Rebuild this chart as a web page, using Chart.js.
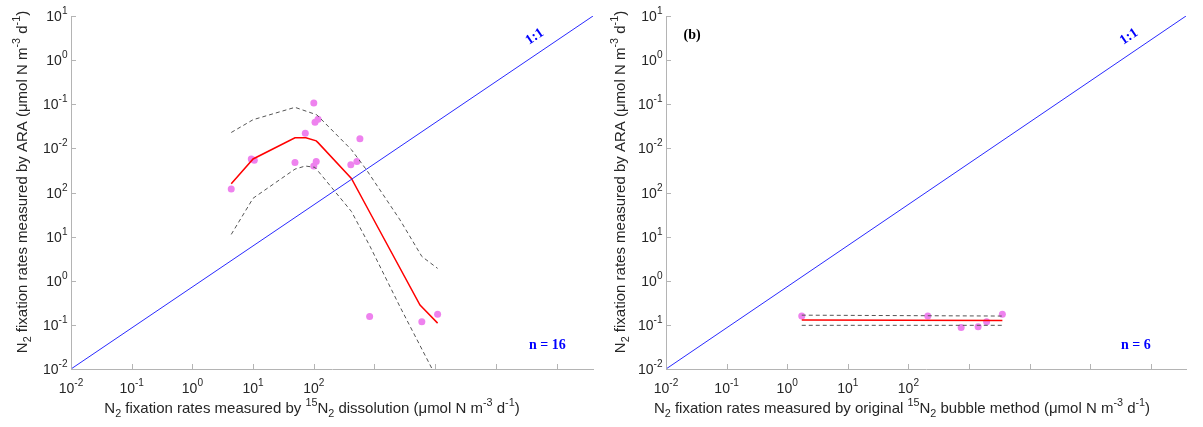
<!DOCTYPE html>
<html>
<head>
<meta charset="utf-8">
<script src="https://cdn.jsdelivr.net/npm/chart.js@4.4.1/dist/chart.umd.min.js"></script>
<style>
    body { margin: 0; background: #fff; }
    .panel { position: absolute; top: 0; height: 427px; }
</style>
</head>
<body>
<div class="panel" style="left:0;width:600px"><canvas id="chartA" width="600" height="427"></canvas></div>
<div class="panel" style="left:600px;width:603px"><canvas id="chartB" width="603" height="427"></canvas></div>
<script>
// all positions are log10 of the rate (one tick = one decade)
// labels use TeX style ^{} / _{} like the matlab original
const tickVals = [-2, -1, 0, 1, 2, 3, 4, 5, 6];
const xTickLabels = ['10^{-2}', '10^{-1}', '10^{0}', '10^{1}', '10^{2}', '', '', '', ''];
const yTickLabels = ['10^{-2}', '10^{-1}', '10^{0}', '10^{1}', '10^{2}', '10^{-2}', '10^{-1}', '10^{0}', '10^{1}'];

// (a) 15N2 dissolution vs ARA
const dissX = [0.64, 0.97, 1.02, 1.69, 1.86, 2.00, 2.02, 2.07, 2.00, 2.04, 2.61, 2.71, 2.76, 2.92, 3.78, 4.04];
const dissY = [2.08, 2.76, 2.73, 2.68, 3.34, 4.03, 3.59, 3.66, 2.60, 2.70, 2.63, 2.70, 3.22, -0.81, -0.93, -0.76];
const dissFitX = [0.64, 1.00, 1.69, 1.87, 2.04, 2.07, 2.62, 2.93, 3.75, 4.04];
const dissFitY = [2.20, 2.76, 3.24, 3.24, 3.17, 3.13, 2.32, 1.53, -0.55, -0.96];
const dissUpX = [0.64, 1.00, 1.69, 2.05, 2.62, 2.87, 3.42, 3.78, 4.04];
const dissUpY = [3.36, 3.65, 3.93, 3.76, 2.97, 2.51, 1.38, 0.55, 0.28];
const dissLoX = [0.64, 1.00, 1.69, 1.86, 2.02, 2.62, 2.93, 3.42, 3.95];
const dissLoY = [1.05, 1.87, 2.53, 2.60, 2.57, 1.57, 0.77, -0.59, -2.00];

// (b) original bubble method vs ARA
const bubX = [0.24, 2.32, 2.87, 3.15, 3.29, 3.55];
const bubY = [-0.80, -0.80, -1.06, -1.04, -0.93, -0.76];
const bubFitX = [0.24, 3.55];
const bubFitY = [-0.89, -0.90];
const bubUpY = [-0.78, -0.80];
const bubLoY = [-1.01, -1.01];

const yTitle = 'N_2 fixation rates measured by ARA (μmol N m^{-3} d^{-1})';

const axisColor = '#b4b4b4';
const textColor = '#262626';
const sansFont = '"Liberation Sans", Arial, sans-serif';

function pts(xs, ys) {
    return xs.map((v, i) => ({ x: v, y: ys[i] }));
}

// draws a string with ^{..} and _{..} as real super/subscripts
function drawRich(ctx, str, x, y, size, align) {
    const parts = str.split(/(\^\{[^}]*\}|_\{[^}]*\}|\^.|_.)/).filter(p => p).map(p => {
        if (p[0] === '^' || p[0] === '_') {
            const t = p[1] === '{' ? p.slice(2, -1) : p.slice(1);
            return { t: t, size: size * 0.72, dy: p[0] === '^' ? -0.5 * size : 0.27 * size };
        }
        return { t: p, size: size, dy: 0 };
    });
    let w = 0;
    parts.forEach(p => {
        ctx.font = p.size + 'px ' + sansFont;
        p.w = ctx.measureText(p.t).width;
        w += p.w;
    });
    let cx = align === 'right' ? x - w : align === 'center' ? x - w / 2 : x;
    ctx.textAlign = 'left';
    ctx.textBaseline = 'alphabetic';
    parts.forEach(p => {
        ctx.font = p.size + 'px ' + sansFont;
        ctx.fillText(p.t, cx, y + p.dy);
        cx += p.w;
    });
}

// MATLAB style axes: inward ticks, tick labels, titles, notes
const matlabAxes = {
    id: 'matlabAxes',
    afterDraw(chart, args, opts) {
        const { ctx, chartArea: a, scales: { x, y } } = chart;
        ctx.save();
        ctx.strokeStyle = axisColor;
        ctx.lineWidth = 1;
        ctx.beginPath();
        tickVals.forEach(v => {
            let px = Math.round(x.getPixelForValue(v)) + 0.5;
            if (px <= a.right) {
                ctx.moveTo(px, a.bottom);
                ctx.lineTo(px, a.bottom - 5);
            }
            let py = Math.round(y.getPixelForValue(v)) + 0.5;
            ctx.moveTo(a.left, py);
            ctx.lineTo(a.left + 5, py);
        });
        ctx.stroke();

        ctx.fillStyle = textColor;
        tickVals.forEach((v, i) => {
            if (xTickLabels[i]) drawRich(ctx, xTickLabels[i], x.getPixelForValue(v), a.bottom + 24, 14, 'center');
            drawRich(ctx, yTickLabels[i], a.left - 3.5, y.getPixelForValue(v) + 5, 14, 'right');
        });

        drawRich(ctx, opts.xTitle, opts.xTitleAt[0], opts.xTitleAt[1], 15, 'center');
        ctx.save();
        ctx.translate(opts.yTitleAt[0], opts.yTitleAt[1]);
        ctx.rotate(-Math.PI / 2);
        drawRich(ctx, yTitle, 0, 0, 15, 'center');
        ctx.restore();

        (opts.notes || []).forEach(n => {
            ctx.save();
            ctx.translate(x.getPixelForValue(n.x), y.getPixelForValue(n.y));
            ctx.rotate((n.angle || 0) * Math.PI / 180);
            ctx.font = 'bold 14px "Liberation Serif", "Times New Roman", serif';
            ctx.fillStyle = n.color;
            ctx.textAlign = n.align || 'center';
            ctx.textBaseline = 'middle';
            ctx.fillText(n.text, 0, 0);
            ctx.restore();
        });
        ctx.restore();
    }
};

function makeChart(id, cfg) {
    return new Chart(document.getElementById(id), {
        type: 'scatter',
        data: {
            datasets: [
                { data: [{ x: -2, y: -2 }, { x: cfg.xMax, y: 6 }], showLine: true, borderColor: '#2a2aff', borderWidth: 1, pointRadius: 0 },
                { data: cfg.upper, showLine: true, borderColor: '#555', borderWidth: 1, borderDash: [4, 3], pointRadius: 0 },
                { data: cfg.lower, showLine: true, borderColor: '#555', borderWidth: 1, borderDash: [4, 3], pointRadius: 0 },
                { data: cfg.fit, showLine: true, borderColor: '#ff0000', borderWidth: 1.5, pointRadius: 0 },
                { data: cfg.points, pointRadius: 3.5, pointBackgroundColor: '#ee82ee', pointBorderWidth: 0, borderColor: '#ee82ee' }
            ]
        },
        options: {
            responsive: false,
            animation: false,
            layout: { padding: { top: 16, right: cfg.padRight, left: 0, bottom: 0 } },
            plugins: {
                legend: { display: false },
                tooltip: { enabled: false },
                matlabAxes: {
                    notes: cfg.notes,
                    xTitle: cfg.xTitle,
                    xTitleAt: cfg.xTitleAt,
                    yTitleAt: cfg.yTitleAt
                }
            },
            scales: {
                x: {
                    type: 'linear',
                    min: -2,
                    max: cfg.xMax,
                    afterBuildTicks: s => { s.ticks = tickVals.map(v => ({ value: v })); },
                    afterFit: s => { s.height = 58; },
                    grid: { drawOnChartArea: false, drawTicks: false },
                    border: { color: axisColor },
                    ticks: { display: false }
                },
                y: {
                    type: 'linear',
                    min: -2,
                    max: 6,
                    afterBuildTicks: s => { s.ticks = tickVals.map(v => ({ value: v })); },
                    afterFit: s => { s.width = cfg.yWidth; },
                    grid: { drawOnChartArea: false, drawTicks: false },
                    border: { color: axisColor },
                    ticks: { display: false }
                }
            }
        },
        plugins: [matlabAxes]
    });
}

makeChart('chartA', {
    xMax: 6.60,
    yWidth: 71,
    padRight: 7,
    xTitle: 'N_2 fixation rates measured by ^{15}N_2 dissolution (μmol N m^{-3} d^{-1})',
    xTitleAt: [312, 413],
    yTitleAt: [27, 182],
    points: pts(dissX, dissY),
    fit: pts(dissFitX, dissFitY),
    upper: pts(dissUpX, dissUpY),
    lower: pts(dissLoX, dissLoY),
    notes: [
        { text: '1:1', x: 5.64, y: 5.53, angle: -34, color: '#0000ff' },
        { text: 'n = 16', x: 6.15, y: -1.46, align: 'right', color: '#0000ff' }
    ]
});

makeChart('chartB', {
    xMax: 6.58,
    yWidth: 66,
    padRight: 17,
    xTitle: 'N_2 fixation rates measured by original ^{15}N_2 bubble method (μmol N m^{-3} d^{-1})',
    xTitleAt: [302, 413],
    yTitleAt: [25, 182],
    points: pts(bubX, bubY),
    fit: pts(bubFitX, bubFitY),
    upper: pts(bubFitX, bubUpY),
    lower: pts(bubFitX, bubLoY),
    notes: [
        { text: '1:1', x: 5.64, y: 5.53, angle: -34, color: '#0000ff' },
        { text: 'n = 6', x: 6.0, y: -1.46, align: 'right', color: '#0000ff' },
        { text: '(b)', x: -1.57, y: 5.55, color: '#000000' }
    ]
});
</script>
</body>
</html>
